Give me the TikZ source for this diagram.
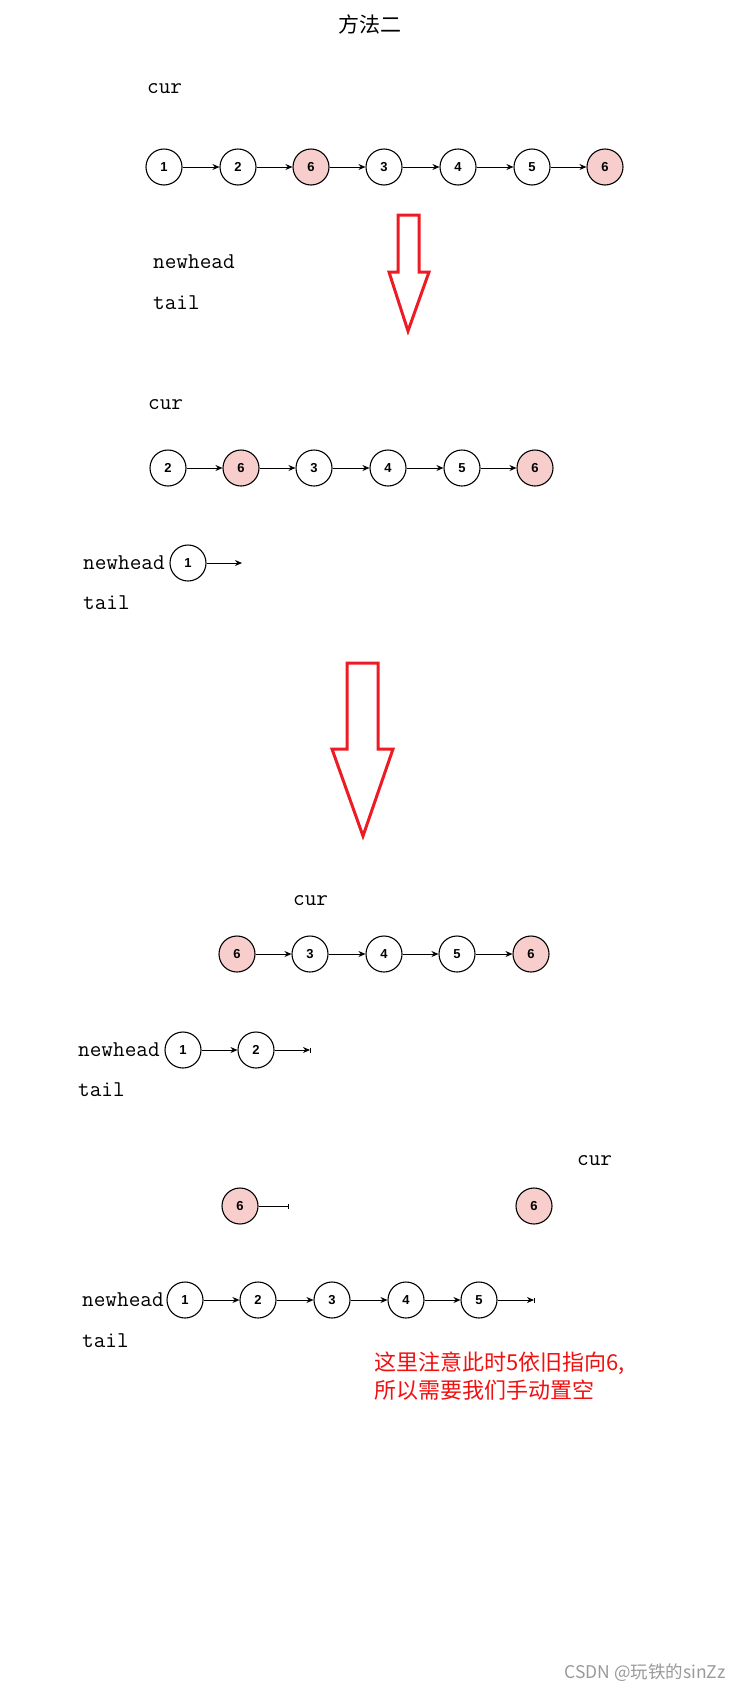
\documentclass[tikz,border=0pt]{standalone}
\usepackage{fontspec}
\newfontfamily\cjk{Noto Sans CJK SC}
\newfontfamily\lsans{Liberation Sans}
\usetikzlibrary{arrows.meta}
\definecolor{pinkc}{HTML}{F8CECC}
\definecolor{arrred}{HTML}{ED1C24}
\definecolor{txtred}{HTML}{F01010}
\definecolor{wmgray}{HTML}{9A9A9A}
\tikzset{
  nd/.style={circle, draw=black, line width=1.1pt, minimum size=36pt, inner sep=0pt, fill=white, font=\lsans\bfseries\fontsize{13}{13}\selectfont},
  pk/.style={nd, fill=pinkc},
  lnk/.style={-{Stealth[length=7pt,width=6pt]}, line width=0.9pt},
  plain/.style={line width=0.9pt},
  tick/.style={line width=0.8pt},
  lbl/.style={font=\ttfamily\fontsize{22.6}{24}\selectfont, anchor=mid west, inner sep=0pt, yshift=-3pt},
  bigarrow/.style={draw=arrred, line width=3pt, line join=miter},
}
\begin{document}
\begin{tikzpicture}[x=1pt,y=-1pt]
\useasboundingbox (0,0) rectangle (750,1692);

% title
\node[font=\cjk\fontsize{21}{21}\selectfont] (title) at (370,24) {方法二};

% ---- stage 1 ----
\node[lbl] (cur1) at (147,88) {cur};
\node[nd] (a1) at (164,167) {1};
\node[nd] (a2) at (238,167) {2};
\node[pk] (a3) at (311,167) {6};
\node[nd] (a4) at (384,167) {3};
\node[nd] (a5) at (458,167) {4};
\node[nd] (a6) at (532,167) {5};
\node[pk] (a7) at (605,167) {6};
\foreach \i/\j in {a1/a2,a2/a3,a3/a4,a4/a5,a5/a6,a6/a7} \draw[lnk] (\i) -- (\j);
\node[lbl] (nh1) at (153,263) {newhead};
\node[lbl] (tl1) at (153,304) {tail};

\draw[bigarrow] (398,215) -- (419,215) -- (419,272) -- (429,272) -- (408,331) -- (389,272) -- (398,272) -- cycle;

% ---- stage 2 ----
\node[lbl] (cur2) at (148,404) {cur};
\node[nd] (b1) at (168,468) {2};
\node[pk] (b2) at (241,468) {6};
\node[nd] (b3) at (314,468) {3};
\node[nd] (b4) at (388,468) {4};
\node[nd] (b5) at (462,468) {5};
\node[pk] (b6) at (535,468) {6};
\foreach \i/\j in {b1/b2,b2/b3,b3/b4,b4/b5,b5/b6} \draw[lnk] (\i) -- (\j);
\node[lbl] (nh2) at (83,564) {newhead};
\node[nd] (bn1) at (188,563) {1};
\coordinate (bend) at (242,563);
\draw[lnk] (bn1) -- (bend);
\node[lbl] (tl2) at (83,604) {tail};

\draw[bigarrow] (347,663) -- (378,663) -- (378,749) -- (393,749) -- (363,836) -- (332,749) -- (347,749) -- cycle;

% ---- stage 3 ----
\node[lbl] (cur3) at (293,900) {cur};
\node[pk] (c1) at (237,954) {6};
\node[nd] (c2) at (310,954) {3};
\node[nd] (c3) at (384,954) {4};
\node[nd] (c4) at (457,954) {5};
\node[pk] (c5) at (531,954) {6};
\foreach \i/\j in {c1/c2,c2/c3,c3/c4,c4/c5} \draw[lnk] (\i) -- (\j);
\node[lbl] (nh3) at (78,1051) {newhead};
\node[nd] (cn1) at (183,1050) {1};
\node[nd] (cn2) at (256,1050) {2};
\coordinate (cend) at (310,1050);
\draw[lnk] (cn1) -- (cn2);
\draw[lnk] (cn2) -- (cend);
\draw[tick] ([yshift=-2.5pt]cend) -- ([yshift=2.5pt]cend);
\node[lbl] (tl3) at (78,1091) {tail};

% ---- stage 4 ----
\node[lbl] (cur4) at (577,1160) {cur};
\node[pk] (d1) at (240,1206) {6};
\node[pk] (d2) at (534,1206) {6};
\coordinate (dend6) at (288,1206);
\draw[plain] (d1) -- (dend6);
\draw[tick] ([yshift=-2.5pt]dend6) -- ([yshift=2.5pt]dend6);
\node[lbl] (nh4) at (82,1301) {newhead};
\node[nd] (dn1) at (185,1300) {1};
\node[nd] (dn2) at (258,1300) {2};
\node[nd] (dn3) at (332,1300) {3};
\node[nd] (dn4) at (406,1300) {4};
\node[nd] (dn5) at (479,1300) {5};
\coordinate (dend) at (534,1300);
\foreach \i/\j in {dn1/dn2,dn2/dn3,dn3/dn4,dn4/dn5} \draw[lnk] (\i) -- (\j);
\draw[lnk] (dn5) -- (dend);
\draw[tick] ([yshift=-2.5pt]dend) -- ([yshift=2.5pt]dend);
\node[lbl] (tl4) at (82,1342) {tail};

\node[anchor=west, inner sep=0pt, align=left, text=txtred, font=\cjk\fontsize{22}{28}\selectfont] (note) at (374,1376) {这里注意此时5依旧指向6,\\所以需要我们手动置空};

% watermark
\node[font=\cjk\fontsize{17.5}{17.5}\selectfont, text=wmgray] (wm) at (645,1673) {CSDN @玩铁的sinZz};
\end{tikzpicture}
\end{document}
